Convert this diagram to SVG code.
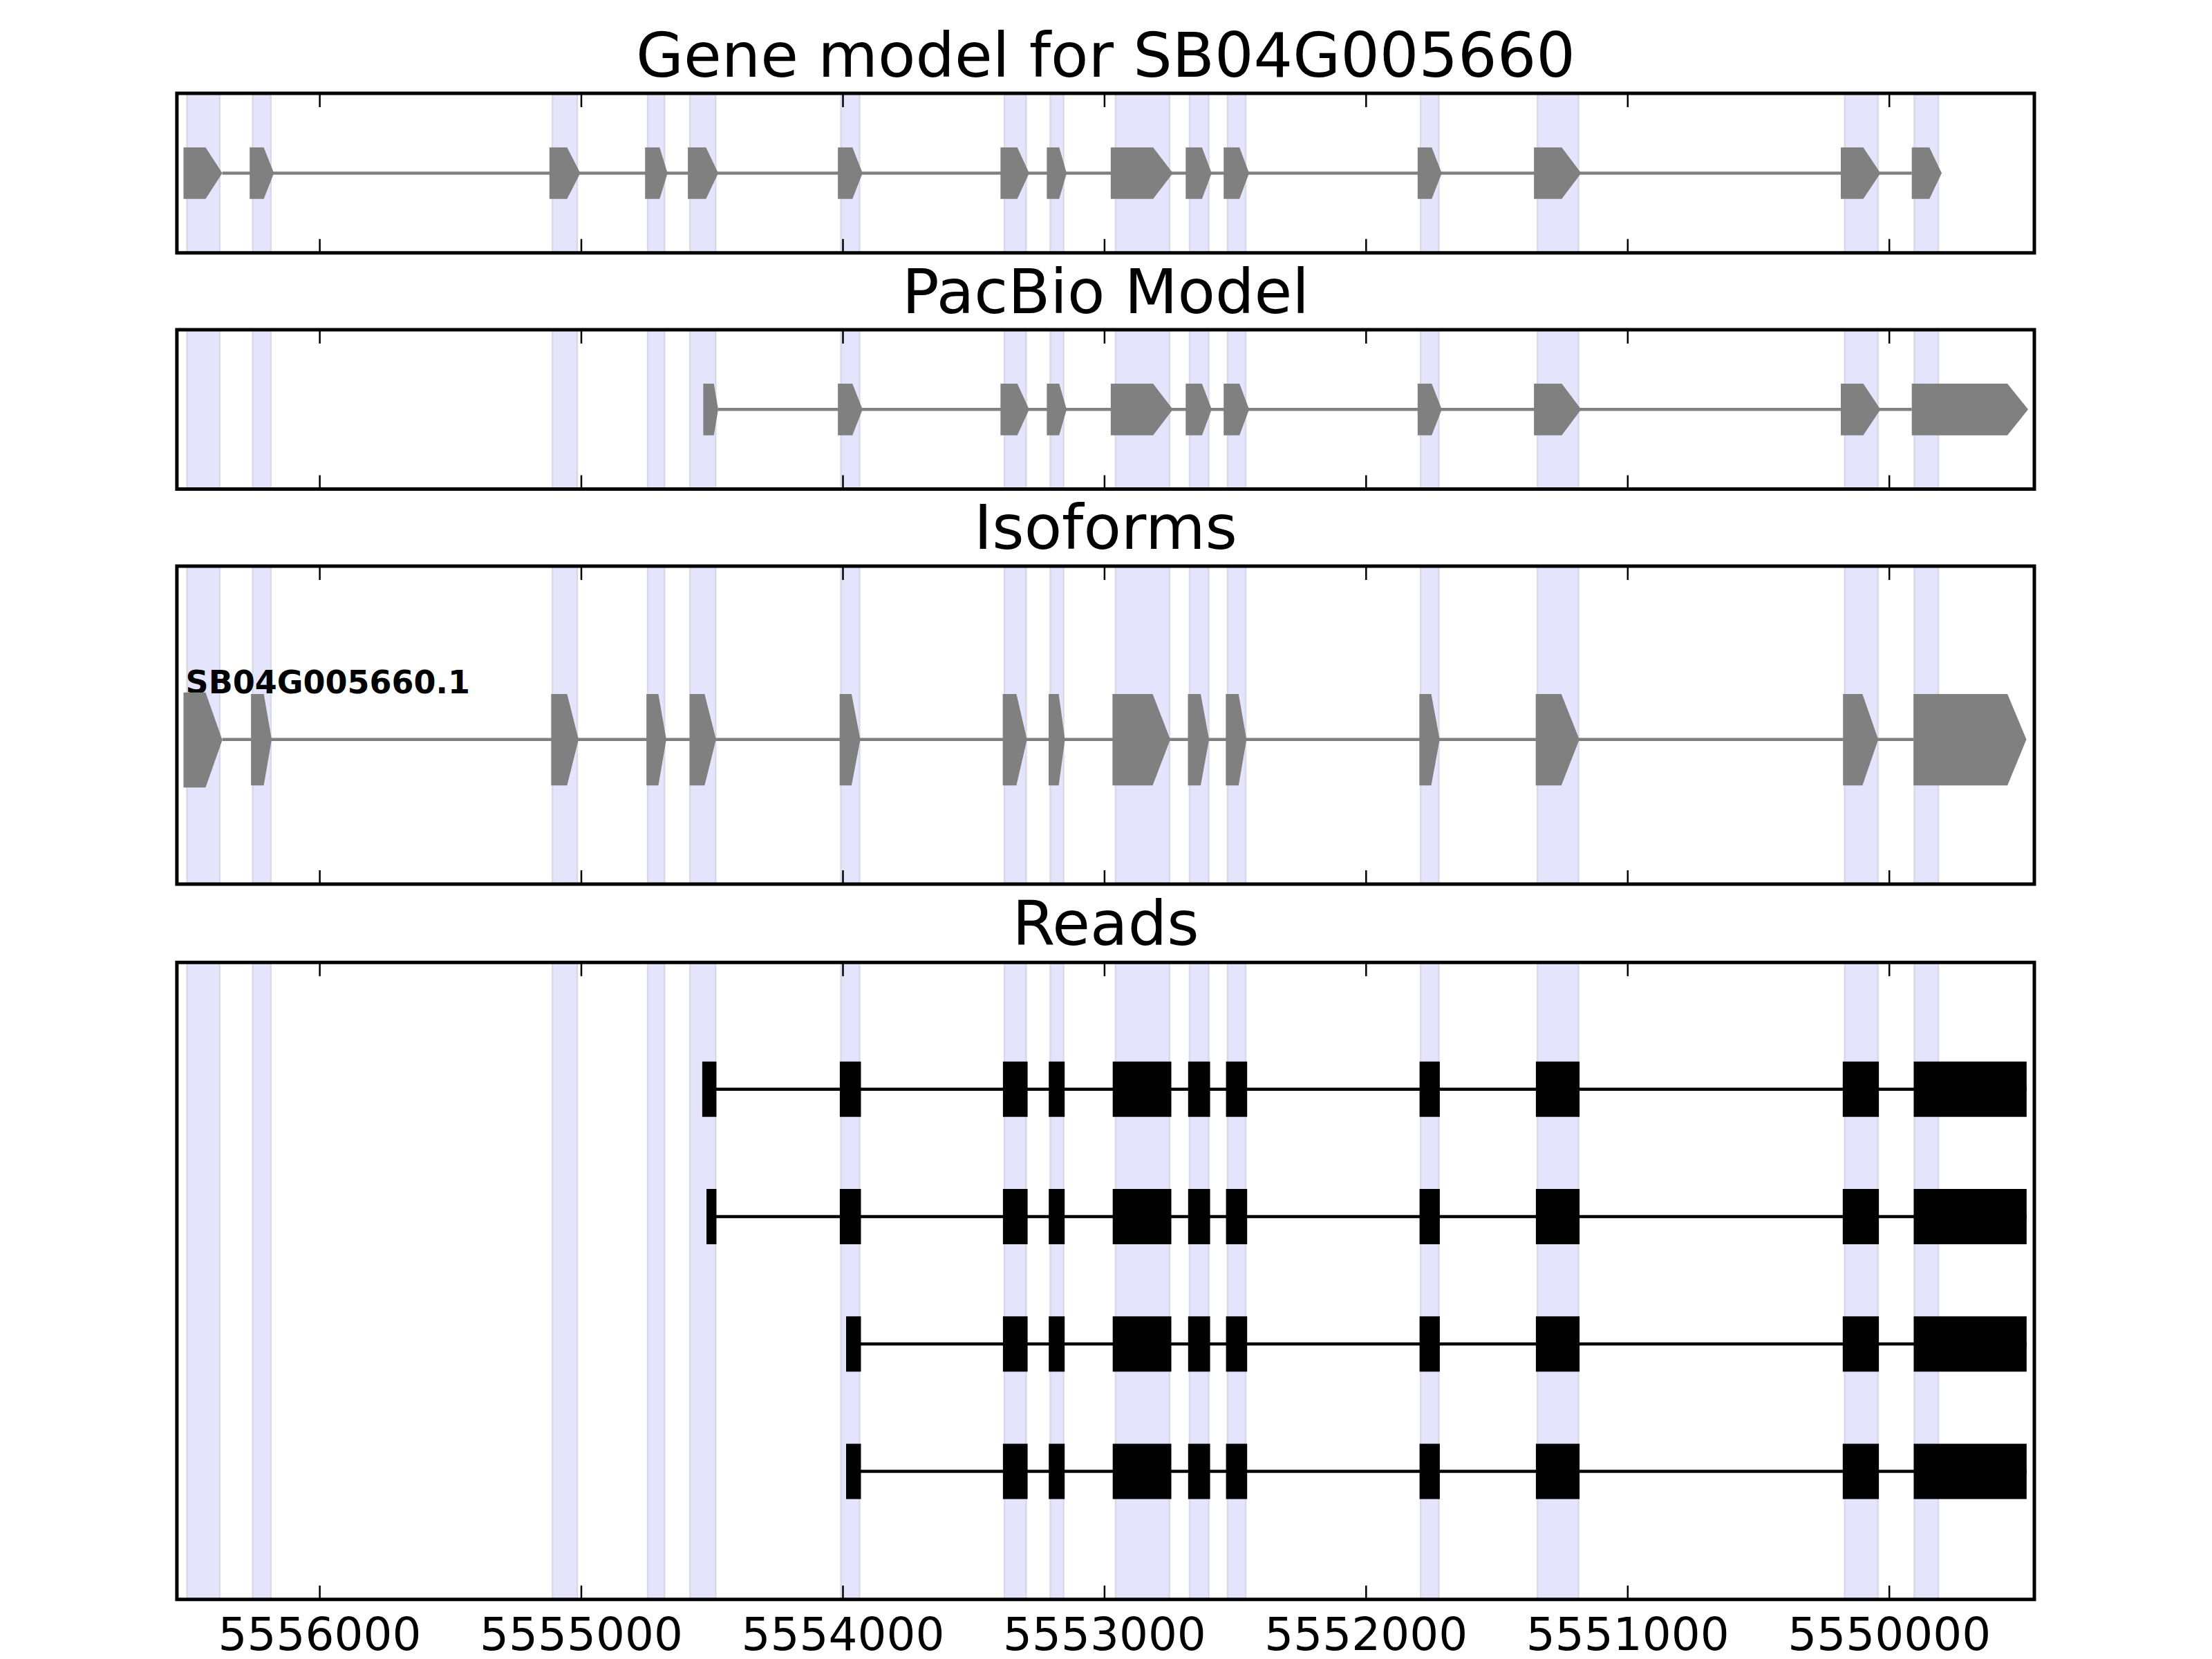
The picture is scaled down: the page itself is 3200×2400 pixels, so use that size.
<svg xmlns="http://www.w3.org/2000/svg" width="3200" height="2400" viewBox="0 0 3200 2400">
<style>
.band{fill:#e4e4fd;stroke:#d9d9ea;stroke-width:2.5}
.frame{fill:none;stroke:#000;stroke-width:5}
.tick{stroke:#000;stroke-width:2.5}
.gx{fill:#808080}
.gl{stroke:#808080;stroke-width:4.5;fill:none}
.rb{fill:#000}
.rl{stroke:#000;stroke-width:4.5;fill:none}
.title{font-family:"DejaVu Sans","Liberation Sans",sans-serif;font-size:89px;text-anchor:middle;fill:#000}
.tl{font-family:"DejaVu Sans","Liberation Sans",sans-serif;font-size:66px;text-anchor:middle;fill:#000}
.lab{font-family:"DejaVu Sans","Liberation Sans",sans-serif;font-size:46px;font-weight:bold;fill:#000}
</style>
<defs>
<g id="ticks">
<path class="tick" d="M462.6 0v20M841 0v20M1219.5 0v20M1597.9 0v20M1976.3 0v20M2354.8 0v20M2733.2 0v20"/>
</g>
</defs>
<rect width="3200" height="2400" fill="#fff"/>

<!-- Panel 1: Gene model -->
<g id="panel-gene-model">
<g id="bands-1">
<rect class="band" x="270.6" y="135" width="47.2" height="230.8"/>
<rect class="band" x="365.6" y="135" width="26.2" height="230.8"/>
<rect class="band" x="799.3" y="135" width="35.7" height="230.8"/>
<rect class="band" x="937.1" y="135" width="24.2" height="230.8"/>
<rect class="band" x="998.3" y="135" width="37" height="230.8"/>
<rect class="band" x="1216.6" y="135" width="26.8" height="230.8"/>
<rect class="band" x="1453.2" y="135" width="31.2" height="230.8"/>
<rect class="band" x="1519.5" y="135" width="19.1" height="230.8"/>
<rect class="band" x="1613.9" y="135" width="77.8" height="230.8"/>
<rect class="band" x="1721" y="135" width="27.5" height="230.8"/>
<rect class="band" x="1775.9" y="135" width="26.1" height="230.8"/>
<rect class="band" x="2055.2" y="135" width="26.2" height="230.8"/>
<rect class="band" x="2224.2" y="135" width="59.3" height="230.8"/>
<rect class="band" x="2668.7" y="135" width="47.9" height="230.8"/>
<rect class="band" x="2769.5" y="135" width="34.5" height="230.8"/>
</g>
<text class="title" x="1599.5" y="111">Gene model for SB04G005660</text>
</g>

<!-- Panel 2: PacBio -->
<g id="panel-pacbio">
<g id="bands-2">
<rect class="band" x="270.6" y="477" width="47.2" height="230.5"/>
<rect class="band" x="365.6" y="477" width="26.2" height="230.5"/>
<rect class="band" x="799.3" y="477" width="35.7" height="230.5"/>
<rect class="band" x="937.1" y="477" width="24.2" height="230.5"/>
<rect class="band" x="998.3" y="477" width="37" height="230.5"/>
<rect class="band" x="1216.6" y="477" width="26.8" height="230.5"/>
<rect class="band" x="1453.2" y="477" width="31.2" height="230.5"/>
<rect class="band" x="1519.5" y="477" width="19.1" height="230.5"/>
<rect class="band" x="1613.9" y="477" width="77.8" height="230.5"/>
<rect class="band" x="1721" y="477" width="27.5" height="230.5"/>
<rect class="band" x="1775.9" y="477" width="26.1" height="230.5"/>
<rect class="band" x="2055.2" y="477" width="26.2" height="230.5"/>
<rect class="band" x="2224.2" y="477" width="59.3" height="230.5"/>
<rect class="band" x="2668.7" y="477" width="47.9" height="230.5"/>
<rect class="band" x="2769.5" y="477" width="34.5" height="230.5"/>
</g>
<text class="title" x="1599.5" y="453">PacBio Model</text>
</g>

<!-- Panel 3: Isoforms -->
<g id="panel-isoforms">
<g id="bands-3">
<rect class="band" x="270.6" y="819" width="47.2" height="460"/>
<rect class="band" x="365.6" y="819" width="26.2" height="460"/>
<rect class="band" x="799.3" y="819" width="35.7" height="460"/>
<rect class="band" x="937.1" y="819" width="24.2" height="460"/>
<rect class="band" x="998.3" y="819" width="37" height="460"/>
<rect class="band" x="1216.6" y="819" width="26.8" height="460"/>
<rect class="band" x="1453.2" y="819" width="31.2" height="460"/>
<rect class="band" x="1519.5" y="819" width="19.1" height="460"/>
<rect class="band" x="1613.9" y="819" width="77.8" height="460"/>
<rect class="band" x="1721" y="819" width="27.5" height="460"/>
<rect class="band" x="1775.9" y="819" width="26.1" height="460"/>
<rect class="band" x="2055.2" y="819" width="26.2" height="460"/>
<rect class="band" x="2224.2" y="819" width="59.3" height="460"/>
<rect class="band" x="2668.7" y="819" width="47.9" height="460"/>
<rect class="band" x="2769.5" y="819" width="34.5" height="460"/>
</g>
<text class="title" x="1599.5" y="794">Isoforms</text>
</g>

<!-- Panel 4: Reads -->
<g id="panel-reads">
<g id="bands-4">
<rect class="band" x="270.6" y="1392.3" width="47.2" height="921.5"/>
<rect class="band" x="365.6" y="1392.3" width="26.2" height="921.5"/>
<rect class="band" x="799.3" y="1392.3" width="35.7" height="921.5"/>
<rect class="band" x="937.1" y="1392.3" width="24.2" height="921.5"/>
<rect class="band" x="998.3" y="1392.3" width="37" height="921.5"/>
<rect class="band" x="1216.6" y="1392.3" width="26.8" height="921.5"/>
<rect class="band" x="1453.2" y="1392.3" width="31.2" height="921.5"/>
<rect class="band" x="1519.5" y="1392.3" width="19.1" height="921.5"/>
<rect class="band" x="1613.9" y="1392.3" width="77.8" height="921.5"/>
<rect class="band" x="1721" y="1392.3" width="27.5" height="921.5"/>
<rect class="band" x="1775.9" y="1392.3" width="26.1" height="921.5"/>
<rect class="band" x="2055.2" y="1392.3" width="26.2" height="921.5"/>
<rect class="band" x="2224.2" y="1392.3" width="59.3" height="921.5"/>
<rect class="band" x="2668.7" y="1392.3" width="47.9" height="921.5"/>
<rect class="band" x="2769.5" y="1392.3" width="34.5" height="921.5"/>
</g>
<text class="title" x="1599.5" y="1367">Reads</text>
</g>

<!-- Connectors: intron lines -->
<g id="connectors">
<path class="gl" d="M321.6 250.5H2765.7"/>
<path class="gl" d="M1039 592.3H2765.7"/>
<path class="gl" d="M321.6 1069.8H2768.2"/>
<path class="rl" d="M1016 1575.7H2931.8"/>
<path class="rl" d="M1022 1760H2931.8"/>
<path class="rl" d="M1224 1944.3H2931.8"/>
<path class="rl" d="M1224 2128.6H2931.8"/>
</g>

<!-- Gene model exons -->
<g id="gene-model-exons" class="gx">
<polygon points="265.5,213.3 297.4,213.3 321.6,250.5 297.4,287.7 265.5,287.7"/>
<polygon points="361.2,213.3 381.6,213.3 396.3,250.5 381.6,287.7 361.2,287.7"/>
<polygon points="794.8,213.3 820.4,213.3 839.5,250.5 820.4,287.7 794.8,287.7"/>
<polygon points="933.2,213.3 954.3,213.3 965.7,250.5 954.3,287.7 933.2,287.7"/>
<polygon points="995.1,213.3 1021.3,213.3 1039.1,250.5 1021.3,287.7 995.1,287.7"/>
<polygon points="1212.1,213.3 1233.2,213.3 1247.8,250.5 1233.2,287.7 1212.1,287.7"/>
<polygon points="1447.4,213.3 1471.7,213.3 1488.9,250.5 1471.7,287.7 1447.4,287.7"/>
<polygon points="1514.4,213.3 1532.3,213.3 1543.1,250.5 1532.3,287.7 1514.4,287.7"/>
<polygon points="1606.9,213.3 1668.1,213.3 1696.8,250.5 1668.1,287.7 1606.9,287.7"/>
<polygon points="1715.3,213.3 1738.9,213.3 1752.9,250.5 1738.9,287.7 1715.3,287.7"/>
<polygon points="1770.2,213.3 1793.1,213.3 1807.1,250.5 1793.1,287.7 1770.2,287.7"/>
<polygon points="2050.8,213.3 2071.2,213.3 2085.8,250.5 2071.2,287.7 2050.8,287.7"/>
<polygon points="2219.1,213.3 2259.3,213.3 2287.4,250.5 2259.3,287.7 2219.1,287.7"/>
<polygon points="2663,213.3 2695.5,213.3 2720.4,250.5 2695.5,287.7 2663,287.7"/>
<polygon points="2765.7,213.3 2791.2,213.3 2809,250.5 2791.2,287.7 2765.7,287.7"/>
</g>

<!-- PacBio exons -->
<g id="pacbio-exons" class="gx">
<polygon points="1017.4,555 1032.7,555 1039,592.3 1032.7,629.7 1017.4,629.7"/>
<polygon points="1212.1,555 1233.2,555 1247.8,592.3 1233.2,629.7 1212.1,629.7"/>
<polygon points="1447.4,555 1471.7,555 1488.9,592.3 1471.7,629.7 1447.4,629.7"/>
<polygon points="1514.4,555 1532.3,555 1543.1,592.3 1532.3,629.7 1514.4,629.7"/>
<polygon points="1606.9,555 1668.1,555 1696.8,592.3 1668.1,629.7 1606.9,629.7"/>
<polygon points="1715.3,555 1738.9,555 1752.9,592.3 1738.9,629.7 1715.3,629.7"/>
<polygon points="1770.2,555 1793.1,555 1807.1,592.3 1793.1,629.7 1770.2,629.7"/>
<polygon points="2050.8,555 2071.2,555 2085.8,592.3 2071.2,629.7 2050.8,629.7"/>
<polygon points="2219.1,555 2259.3,555 2287.4,592.3 2259.3,629.7 2219.1,629.7"/>
<polygon points="2663,555 2695.5,555 2720.4,592.3 2695.5,629.7 2663,629.7"/>
<polygon points="2765.7,555 2904,555 2934,592.3 2904,629.7 2765.7,629.7"/>
</g>

<!-- Isoform exons -->
<g id="isoform-SB04G005660.1">
<text class="lab" x="268.5" y="1003">SB04G005660.1</text>
<g class="gx">
<polygon points="265.5,1001.7 297.4,1001.7 321.6,1070.5 297.4,1139.3 265.5,1139.3"/>
<polygon points="363.1,1004 381.6,1004 393,1069.8 381.6,1136.3 363.1,1136.3"/>
<polygon points="797.4,1004 820.4,1004 837,1069.8 820.4,1136.3 797.4,1136.3"/>
<polygon points="935.2,1004 952.4,1004 963.9,1069.8 952.4,1136.3 935.2,1136.3"/>
<polygon points="997.6,1004 1019.3,1004 1035.9,1069.8 1019.3,1136.3 997.6,1136.3"/>
<polygon points="1214.7,1004 1231.9,1004 1244.6,1069.8 1231.9,1136.3 1214.7,1136.3"/>
<polygon points="1450.6,1004 1470.4,1004 1485.7,1069.8 1470.4,1136.3 1450.6,1136.3"/>
<polygon points="1517,1004 1531.6,1004 1540.6,1069.8 1531.6,1136.3 1517,1136.3"/>
<polygon points="1609.4,1004 1667.5,1004 1693,1069.8 1667.5,1136.3 1609.4,1136.3"/>
<polygon points="1718.5,1004 1737,1004 1749.1,1069.8 1737,1136.3 1718.5,1136.3"/>
<polygon points="1773.3,1004 1791.8,1004 1803.3,1069.8 1791.8,1136.3 1773.3,1136.3"/>
<polygon points="2053.3,1004 2070.5,1004 2082.7,1069.8 2070.5,1136.3 2053.3,1136.3"/>
<polygon points="2221.7,1004 2258.7,1004 2284.8,1069.8 2258.7,1136.3 2221.7,1136.3"/>
<polygon points="2666.2,1004 2694.3,1004 2717.2,1069.8 2694.3,1136.3 2666.2,1136.3"/>
<polygon points="2768.2,1004 2904.1,1004 2931.5,1069.8 2904.1,1136.3 2768.2,1136.3"/>
</g>
</g>

<!-- Reads -->
<g id="read-1" class="rb">
<rect x="1015.9" y="1535.7" width="20.5" height="80"/>
<rect x="1214.9" y="1535.7" width="30.6" height="80"/>
<rect x="1450.9" y="1535.7" width="35.7" height="80"/>
<rect x="1517.2" y="1535.7" width="23" height="80"/>
<rect x="1609.7" y="1535.7" width="84.8" height="80"/>
<rect x="1718.8" y="1535.7" width="31.8" height="80"/>
<rect x="1773.6" y="1535.7" width="30.6" height="80"/>
<rect x="2053.6" y="1535.7" width="29.3" height="80"/>
<rect x="2221.9" y="1535.7" width="63.2" height="80"/>
<rect x="2665.8" y="1535.7" width="52.3" height="80"/>
<rect x="2768.5" y="1535.7" width="163.3" height="80"/>
</g>
<g id="read-2" class="rb">
<rect x="1022" y="1720" width="14.4" height="80"/>
<rect x="1214.9" y="1720" width="30.6" height="80"/>
<rect x="1450.9" y="1720" width="35.7" height="80"/>
<rect x="1517.2" y="1720" width="23" height="80"/>
<rect x="1609.7" y="1720" width="84.8" height="80"/>
<rect x="1718.8" y="1720" width="31.8" height="80"/>
<rect x="1773.6" y="1720" width="30.6" height="80"/>
<rect x="2053.6" y="1720" width="29.3" height="80"/>
<rect x="2221.9" y="1720" width="63.2" height="80"/>
<rect x="2665.8" y="1720" width="52.3" height="80"/>
<rect x="2768.5" y="1720" width="163.3" height="80"/>
</g>
<g id="read-3" class="rb">
<rect x="1224" y="1904.3" width="21.5" height="80"/>
<rect x="1450.9" y="1904.3" width="35.7" height="80"/>
<rect x="1517.2" y="1904.3" width="23" height="80"/>
<rect x="1609.7" y="1904.3" width="84.8" height="80"/>
<rect x="1718.8" y="1904.3" width="31.8" height="80"/>
<rect x="1773.6" y="1904.3" width="30.6" height="80"/>
<rect x="2053.6" y="1904.3" width="29.3" height="80"/>
<rect x="2221.9" y="1904.3" width="63.2" height="80"/>
<rect x="2665.8" y="1904.3" width="52.3" height="80"/>
<rect x="2768.5" y="1904.3" width="163.3" height="80"/>
</g>
<g id="read-4" class="rb">
<rect x="1224" y="2088.6" width="21.5" height="80"/>
<rect x="1450.9" y="2088.6" width="35.7" height="80"/>
<rect x="1517.2" y="2088.6" width="23" height="80"/>
<rect x="1609.7" y="2088.6" width="84.8" height="80"/>
<rect x="1718.8" y="2088.6" width="31.8" height="80"/>
<rect x="1773.6" y="2088.6" width="30.6" height="80"/>
<rect x="2053.6" y="2088.6" width="29.3" height="80"/>
<rect x="2221.9" y="2088.6" width="63.2" height="80"/>
<rect x="2665.8" y="2088.6" width="52.3" height="80"/>
<rect x="2768.5" y="2088.6" width="163.3" height="80"/>
</g>

<!-- Frames and ticks -->
<g id="axes">
<use href="#ticks" transform="translate(0,135)"/>
<use href="#ticks" transform="translate(0,365.8) scale(1,-1)"/>
<use href="#ticks" transform="translate(0,477)"/>
<use href="#ticks" transform="translate(0,707.5) scale(1,-1)"/>
<use href="#ticks" transform="translate(0,819)"/>
<use href="#ticks" transform="translate(0,1279) scale(1,-1)"/>
<use href="#ticks" transform="translate(0,1392.3)"/>
<use href="#ticks" transform="translate(0,2313.8) scale(1,-1)"/>
<rect class="frame" x="255.9" y="135" width="2687.1" height="230.8"/>
<rect class="frame" x="255.9" y="477" width="2687.1" height="230.5"/>
<rect class="frame" x="255.9" y="819" width="2687.1" height="460"/>
<rect class="frame" x="255.9" y="1392.3" width="2687.1" height="921.5"/>
</g>
<g id="xaxis-labels">
<text class="tl" x="462.6" y="2387">5556000</text>
<text class="tl" x="841" y="2387">5555000</text>
<text class="tl" x="1219.5" y="2387">5554000</text>
<text class="tl" x="1597.9" y="2387">5553000</text>
<text class="tl" x="1976.3" y="2387">5552000</text>
<text class="tl" x="2354.8" y="2387">5551000</text>
<text class="tl" x="2733.2" y="2387">5550000</text>
</g>
</svg>
